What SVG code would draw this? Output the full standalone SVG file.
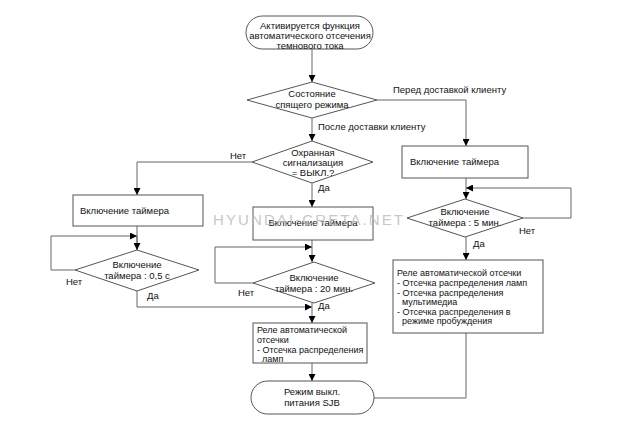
<svg xmlns="http://www.w3.org/2000/svg" width="623" height="436" viewBox="0 0 623 436">
<defs>
<marker id="ah" viewBox="0 0 10 10" refX="10" refY="5" markerWidth="7" markerHeight="7" markerUnits="userSpaceOnUse" orient="auto">
<path d="M0,0 L10,5 L0,10 z" fill="#000"/>
</marker>
</defs>
<style>
.s{fill:#fff;stroke:#555;stroke-width:1}
.c{fill:none;stroke:#666;stroke-width:1}
.a{marker-end:url(#ah)}
text{font-family:"Liberation Sans",Arial,sans-serif;font-size:9.5px;fill:#111}
.m{text-anchor:middle}
.r{font-size:9px}
.wm{font-size:15px;fill:#bbb;letter-spacing:2px;opacity:0.8}
</style>
<rect width="623" height="436" fill="#fff"/>
<g id="connectors">
<path class="c a" d="M312,48 V82"/>
<path class="c a" d="M377,100 H466 V146"/>
<path class="c a" d="M312,118 V141"/>
<path class="c a" d="M252,162 H137 V195"/>
<path class="c a" d="M312,183 V207"/>
<path class="c" d="M137,226 V250"/>
<path class="c a" d="M137,236 V250"/>
<path class="c a" d="M75,270 H51 V236 H137"/>
<path class="c" d="M137,291 V307"/>
<path class="c a" d="M137,307 H312"/>
<path class="c a" d="M312,240 V262"/>
<path class="c a" d="M253,283 H215 V247 H312"/>
<path class="c a" d="M312,303 V323"/>
<path class="c a" d="M312,363 V381"/>
<path class="c a" d="M466,178 V199"/>
<path class="c a" d="M523,218 H571 V188 H466"/>
<path class="c a" d="M466,237 V260"/>
<path class="c" d="M466,333 V398 H374"/>
</g>
<g id="start">
<rect class="s" x="246" y="16" width="127" height="33" rx="16.5"/>
<text class="m" x="310" y="29">Активируется функция</text>
<text class="m" x="310" y="39">автоматического отсечения</text>
<text class="m" x="310" y="48.5">темнового тока</text>
</g>
<g id="d1">
<path class="s" d="M247,100 L312,82 L377,100 L312,118 z"/>
<text class="m" x="312" y="97">Состояние</text>
<text class="m" x="312" y="108">спящего режима</text>
</g>
<text x="393" y="93">Перед доставкой клиенту</text>
<text x="318" y="130">После доставки клиенту</text>
<g id="d2">
<path class="s" d="M252,162 L312,141 L373,162 L312,183 z"/>
<text class="m" x="313" y="156">Охранная</text>
<text class="m" x="313" y="166">сигнализация</text>
<text class="m" x="313" y="176">= ВЫКЛ.?</text>
</g>
<text x="230" y="159">Нет</text>
<text x="318" y="191">Да</text>
<g id="b1">
<rect class="s" x="73" y="195" width="130" height="31"/>
<text x="80" y="214">Включение таймера</text>
</g>
<g id="b2">
<rect class="s" x="253" y="207" width="120" height="33"/>
<text class="m" x="313" y="226">Включение таймера</text>
</g>
<g id="b3">
<rect class="s" x="402" y="146" width="126" height="32"/>
<text x="410" y="165">Включение таймера</text>
</g>
<g id="d3">
<path class="s" d="M75,270 L137,250 L199,270 L137,291 z"/>
<text class="m" x="137" y="268">Включение</text>
<text class="m" x="137" y="279">таймера : 0,5 с</text>
</g>
<text x="66" y="285">Нет</text>
<text x="147" y="299">Да</text>
<g id="d4">
<path class="s" d="M253,283 L314,262 L375,283 L314,303 z"/>
<text class="m" x="314" y="281">Включение</text>
<text class="m" x="314" y="292">таймера : 20 мин.</text>
</g>
<text x="238" y="296">Нет</text>
<text x="318" y="309">Да</text>
<g id="d5">
<path class="s" d="M407,218 L465,199 L523,218 L465,237 z"/>
<text class="m" x="465" y="215">Включение</text>
<text class="m" x="465" y="226">таймера : 5 мин.</text>
</g>
<text x="519" y="234">Нет</text>
<text x="473" y="247">Да</text>
<g id="relay1">
<rect class="s" x="253" y="323" width="114" height="40"/>
<text class="r" x="257" y="333">Реле автоматической</text>
<text class="r" x="257" y="343">отсечки</text>
<text class="r" x="257" y="353">- Отсечка распределения</text>
<text class="r" x="262" y="362">ламп</text>
</g>
<g id="relay2">
<rect class="s" x="393" y="260" width="150" height="73"/>
<text class="r" x="397" y="276">Реле автоматической отсечки</text>
<text class="r" x="397" y="286">- Отсечка распределения ламп</text>
<text class="r" x="397" y="296">- Отсечка распределения</text>
<text class="r" x="402" y="305">мультимедиа</text>
<text class="r" x="397" y="315">- Отсечка распределения в</text>
<text class="r" x="402" y="324">режиме пробуждения</text>
</g>
<g id="end">
<rect class="s" x="251" y="381" width="123" height="33" rx="16.5"/>
<text class="m" x="312" y="395">Режим выкл.</text>
<text class="m" x="312" y="406">питания SJB</text>
</g>
<text class="wm" x="213" y="225" textLength="192" lengthAdjust="spacing">HYUNDAI-CRETA.NET</text>
</svg>
